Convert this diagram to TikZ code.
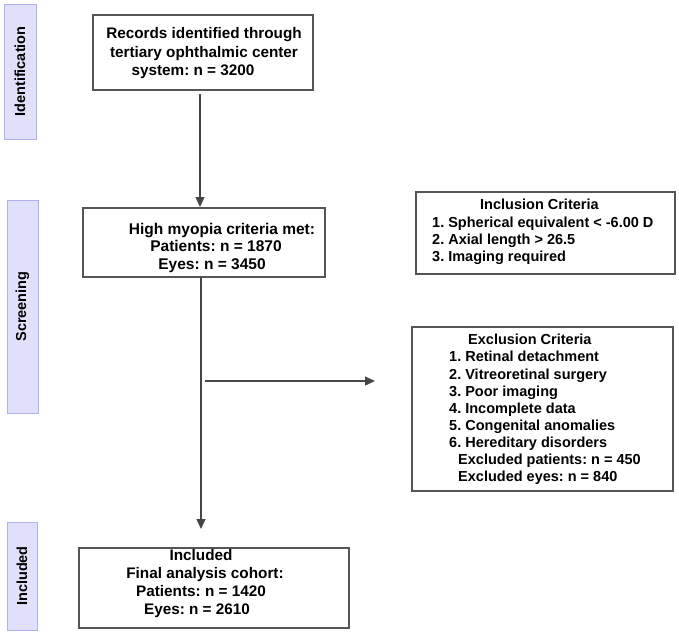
\documentclass[tikz,border=0pt]{standalone}
\usepackage{fontspec}
\setmainfont{Liberation Sans}
\usetikzlibrary{arrows.meta}
\definecolor{barfill}{RGB}{224,224,250}
\definecolor{barline}{RGB}{176,176,238}
\definecolor{boxline}{RGB}{85,85,85}
\definecolor{arrline}{RGB}{70,70,70}
\frenchspacing
\tikzset{
  box/.style={draw=boxline, line width=1.2pt, fill=white, inner sep=0pt},
  bar/.style={draw=barline, line width=1pt, fill=barfill, inner sep=0pt},
  barlabel/.style={rotate=90, font=\fontsize{14.5}{17}\selectfont\bfseries, inner sep=0pt},
  txt/.style={font=\fontsize{14.5}{17.5}\selectfont\bfseries, inner sep=0pt},
  arr/.style={draw=arrline, line width=1.3pt, -{Triangle[length=10pt,width=9pt]}},
  ln/.style={draw=arrline, line width=1.3pt}
}
\begin{document}
\begin{tikzpicture}[x=1pt,y=-1pt]
\useasboundingbox (0,0) rectangle (679,635);
% side bars
\node[bar, minimum width=32pt, minimum height=135pt] (idbar) at (20,71.5) {};
\node[barlabel] (idlab) at (idbar.center) {Identification};
\node[bar, minimum width=31pt, minimum height=213pt] (scbar) at (22.5,306.5) {};
\node[barlabel] (sclab) at (scbar.center) {Screening};
\node[bar, minimum width=30pt, minimum height=108pt] (inbar) at (22,576) {};
\node[barlabel] (inlab) at (inbar.center) {Included};
% box 1
\node[box, minimum width=220pt, minimum height=75pt] (b1) at (203,52.5) {};
\node[txt, align=center, font=\fontsize{15.3}{18.5}\selectfont\bfseries] (b1t) at (204,53.5) {Records identified through\\tertiary ophthalmic center\\system: n = 3200\hspace*{22pt}};
% box 2
\node[box, minimum width=242pt, minimum height=69pt] (b2) at (204,242.5) {};
\node[txt, align=center, font=\fontsize{15.5}{17.5}\selectfont\bfseries] (b2t) at (216,247.5) {\hspace*{12pt}High myopia criteria met:\\Patients: n = 1870\\Eyes: n = 3450\hspace*{8pt}};
% inclusion
\node[box, minimum width=259pt, minimum height=82pt] (inc) at (545.5,233) {};
\node[txt, align=left, anchor=west, font=\fontsize{14.5}{17.3}\selectfont\bfseries] (inct) at (432,232) {\hspace*{48pt}Inclusion Criteria\\1. Spherical equivalent < -6.00 D\\2. Axial length > 26.5\\3. Imaging required};
% exclusion
\node[box, minimum width=261pt, minimum height=164pt] (exc) at (542.5,409) {};
\node[txt, align=left, anchor=west, font=\fontsize{14.5}{17.1}\selectfont\bfseries] (exct) at (449,409.5) {\hspace*{19pt}Exclusion Criteria\\1. Retinal detachment\\2. Vitreoretinal surgery\\3. Poor imaging\\4. Incomplete data\\5. Congenital anomalies\\6. Hereditary disorders\\\hspace*{9pt}Excluded patients: n = 450\\\hspace*{9pt}Excluded eyes: n = 840};
% box 4
\node[box, minimum width=270pt, minimum height=80pt] (b4) at (214,588) {};
\node[txt, align=center, font=\fontsize{15.3}{17.7}\selectfont\bfseries] (b4t) at (201,583.5) {Included\\\hspace*{8pt}Final analysis cohort:\\Patients: n = 1420\\Eyes: n = 2610\hspace*{8pt}};
% connectors
\coordinate (a1s) at (200,94);
\coordinate (a1e) at (200,207);
\draw[arr] (a1s) -- (a1e);
\coordinate (a2s) at (201,277);
\coordinate (a2e) at (201,529);
\draw[arr] (a2s) -- (a2e);
\coordinate (hs) at (205,381);
\coordinate (he) at (375,381);
\draw[arr] (hs) -- (he);
\end{tikzpicture}
\end{document}
